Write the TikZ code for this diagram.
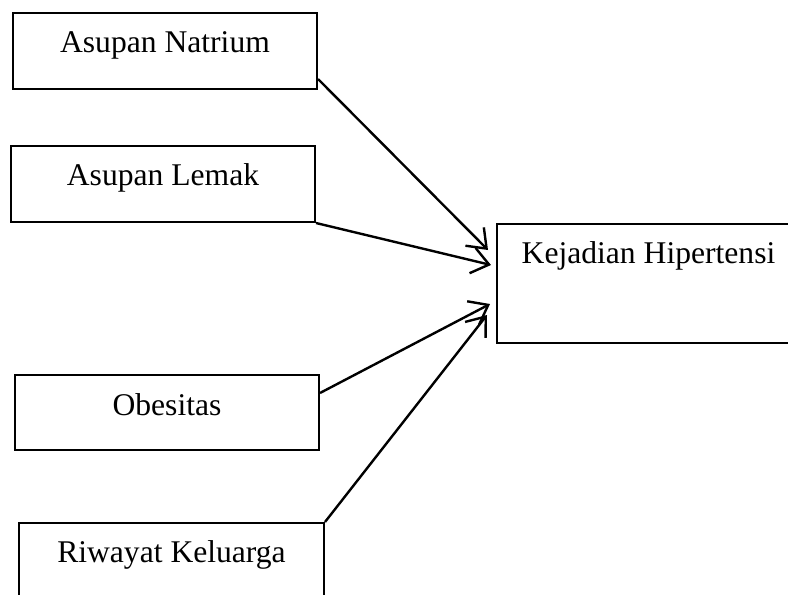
\documentclass[tikz,border=0pt]{standalone}
\usepackage{fontspec}
\setmainfont{Liberation Serif}
\usetikzlibrary{arrows.meta}
\begin{document}
\begin{tikzpicture}[x=1pt,y=-1pt,
  box/.style={draw=black,line width=2pt,rectangle,inner sep=0pt,anchor=north west},
  lbl/.style={anchor=base,inner sep=0pt,font=\fontsize{31.6}{38}\selectfont},
  conn/.style={line width=2.4pt,-{Straight Barb[length=17pt,width=26pt,line width=2.4pt]}}]
\useasboundingbox (0,0) rectangle (788,595);
\node[box,minimum width=304pt,minimum height=76pt] (nat) at (12,12) {};
\node[box,minimum width=304pt,minimum height=76pt] (lem) at (10,145) {};
\node[box,minimum width=303pt,minimum height=119pt] (kej) at (496,223) {};
\node[box,minimum width=304pt,minimum height=75pt] (obe) at (14,374) {};
\node[box,minimum width=305pt,minimum height=80pt] (riw) at (18,522) {};
\node[lbl] (tnat) at ([yshift=-40pt]nat.north) {Asupan Natrium};
\node[lbl] (tlem) at ([yshift=-40pt]lem.north) {Asupan Lemak};
\node[lbl] (tkej) at ([yshift=-40pt]kej.north) {Kejadian Hipertensi};
\node[lbl] (tobe) at ([yshift=-41pt]obe.north) {Obesitas};
\node[lbl] (triw) at ([yshift=-40pt]riw.north) {Riwayat Keluarga};
\draw[conn] ([yshift=11pt]nat.south east) -- ([xshift=-8pt,yshift=-27pt]kej.north west);
\draw[conn] (lem.south east) -- ([xshift=-5pt,yshift=-42pt]kej.north west);
\draw[conn] ([yshift=-19pt]obe.north east) -- ([xshift=-6pt,yshift=-81pt]kej.north west);
\draw[conn] (riw.north east) -- ([xshift=-9pt,yshift=-92pt]kej.north west);
\end{tikzpicture}
\end{document}
